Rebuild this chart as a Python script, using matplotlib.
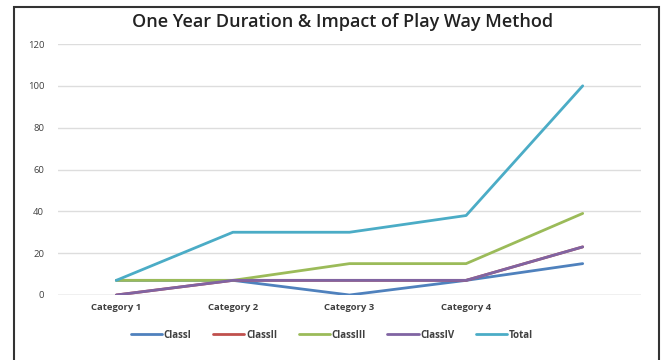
import matplotlib
matplotlib.use("Agg")
import matplotlib.pyplot as plt
from matplotlib.patches import Rectangle

categories = ["Category 1", "Category 2", "Category 3", "Category 4", ""]
class1 = [7, 7, 0, 7, 15]
class2 = [0, 7, 7, 7, 23]
class3 = [7, 7, 15, 15, 39]
class4 = [0, 7, 7, 7, 23]
total = [7, 30, 30, 38, 100]
series_names = ["ClassI", "ClassII", "ClassIII", "ClassIV", "Total"]
colors = ["#4F81BD", "#C0504D", "#9BBB59", "#8064A2", "#4BACC6"]
yticks = [0, 20, 40, 60, 80, 100, 120]

plt.rcParams['font.family'] = ['Open Sans', 'DejaVu Sans']

fig = plt.figure(figsize=(6.63, 3.6), dpi=100)
ax = fig.add_axes([58/663, 1-295/360, (641-58)/663, (295-44)/360])

x = list(range(len(categories)))
for vals, name, c in zip([class1, class2, class3, class4, total], series_names, colors):
    ax.plot(x, vals, color=c, lw=2.0, label=name, solid_capstyle='round', solid_joinstyle='round')

ax.set_xlim(-0.5, 4.5)
ax.set_ylim(0, 120)
ax.set_yticks(yticks)
ax.set_yticklabels([str(v) for v in yticks], fontsize=6.8, color="#404040")
ax.set_xticks(x)
ax.set_xticklabels(categories, fontsize=6.8, color="#404040", fontweight='bold')
ax.tick_params(axis='both', length=0)
ax.tick_params(axis='y', pad=10)
ax.tick_params(axis='x', pad=6)
ax.grid(axis='y', color="#DDDDDD", lw=1)
ax.set_axisbelow(True)
for s in ax.spines.values():
    s.set_visible(False)
ax.axhline(0, color="#D0D0D0", lw=1, zorder=0)

fig.text(343/663, 1-22/360, "One Year Duration & Impact of Play Way Method",
         ha='center', va='center', fontsize=13, fontweight='semibold', color="#222222")

leg = fig.legend(loc='center', bbox_to_anchor=(332/663, 1-335/360), ncol=5, frameon=False,
                 fontsize=7, handlelength=3.2, columnspacing=2.2, handletextpad=0.2)
for t in leg.get_texts():
    t.set_color("#404040")
    t.set_fontweight('bold')

fig.patches.append(Rectangle((14/663, -0.05), (659-14)/663, 1.05 - 7/360,
                             transform=fig.transFigure, fill=False, ec="#333333", lw=1.5))

fig.savefig("out.png", dpi=100)
